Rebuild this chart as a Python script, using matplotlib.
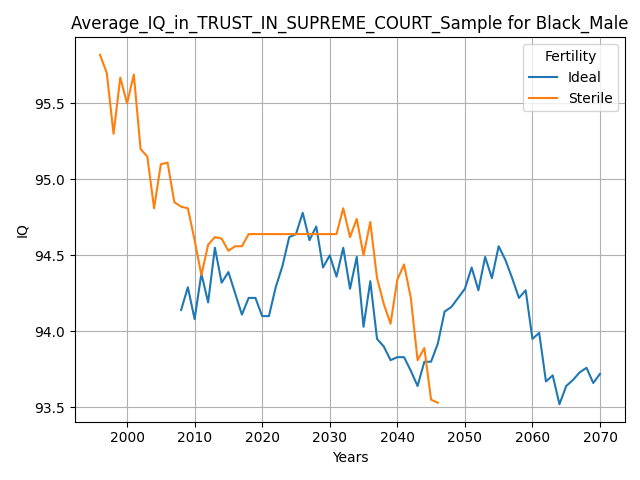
import matplotlib
matplotlib.use("Agg")
import matplotlib.pyplot as plt

ideal_years = list(range(2008, 2071))
ideal_iq = [94.14,94.29,94.08,94.38,94.19,94.55,94.32,94.39,94.25,94.11,94.22,94.22,94.10,94.10,94.29,94.43,94.62,94.64,94.78,94.60,94.69,94.42,94.50,94.36,94.55,94.28,94.49,94.03,94.33,93.95,93.90,93.81,93.83,93.83,93.74,93.64,93.80,93.80,93.92,94.13,94.16,94.22,94.28,94.42,94.27,94.49,94.35,94.56,94.47,94.35,94.22,94.27,93.95,93.99,93.67,93.71,93.52,93.64,93.68,93.73,93.76,93.66,93.72]
sterile_years = list(range(1996, 2047))
sterile_iq = [95.82,95.70,95.30,95.67,95.50,95.69,95.20,95.15,94.81,95.10,95.11,94.85,94.82,94.81,94.60,94.37,94.57,94.62,94.61,94.53,94.56,94.56,94.64,94.64,94.64,94.64,94.64,94.64,94.64,94.64,94.64,94.64,94.64,94.64,94.64,94.64,94.81,94.62,94.74,94.50,94.72,94.35,94.18,94.05,94.34,94.44,94.22,93.81,93.89,93.55,93.53]

fig, ax = plt.subplots(figsize=(6.4, 4.8), dpi=100)
ax.plot(ideal_years, ideal_iq, label="Ideal")
ax.plot(sterile_years, sterile_iq, label="Sterile")
ax.set_title("Average_IQ_in_TRUST_IN_SUPREME_COURT_Sample for Black_Male")
ax.set_xlabel("Years")
ax.set_ylabel("IQ")
ax.grid(True)
ax.legend(title="Fertility", loc="upper right")
fig.tight_layout()
fig.savefig("out.png")
